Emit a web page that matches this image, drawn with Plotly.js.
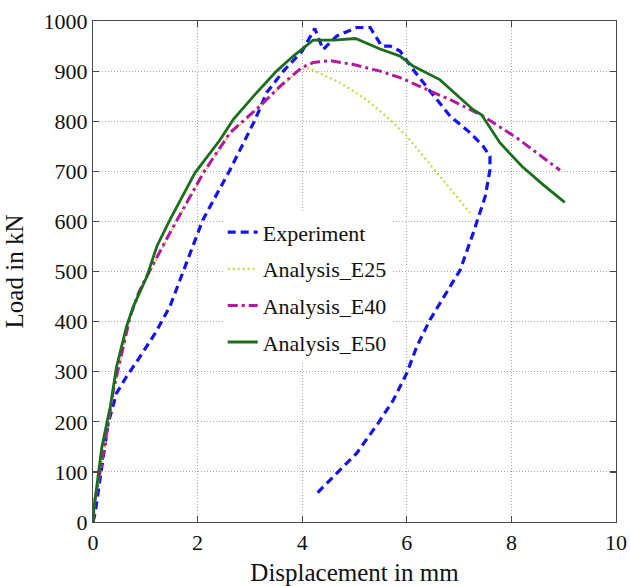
<!DOCTYPE html>
<html>
<head>
<meta charset="utf-8">
<script src="https://cdn.plot.ly/plotly-3.0.1.min.js"></script>
<style>html,body{margin:0;padding:0;background:#fff;}#chart{width:630px;height:586px;}</style>
</head>
<body>
<div id="chart"></div>
<script>
// Experiment (blue dashed)
const expX = [0, 0.04, 0.13, 0.29, 0.45, 0.64, 0.9, 1.19, 1.47, 1.66, 2.1, 2.62, 3.1, 3.32, 3.64, 4.0, 4.24, 4.4, 4.66, 5.04, 5.3, 5.52, 5.68, 5.87, 6.12, 6.5, 6.83, 7.21, 7.46, 7.59, 7.59, 7.5, 7.27, 7.02, 6.68, 6.44, 6.19, 6.0, 5.74, 5.45, 5.04, 4.59, 4.24];
const expY = [0, 17, 83, 197, 257, 290, 330, 377, 430, 483, 603, 703, 803, 857, 900, 940, 985, 943, 970, 987, 987, 950, 950, 940, 903, 853, 810, 777, 750, 730, 703, 650, 577, 503, 443, 403, 350, 297, 243, 197, 137, 90, 53];
// Analysis_E25 (yellow dotted)
const e25X = [0, 0.03, 0.2, 0.39, 0.58, 0.71, 0.87, 0.99, 1.47, 2.11, 2.62, 3.19, 3.58, 3.96, 4.1, 4.72, 5.23, 5.68, 6.0, 6.32, 6.57, 6.89, 7.21];
const e25Y = [0, 40, 135, 260, 347, 407, 453, 480, 575, 695, 775, 828, 868, 903, 907, 877, 843, 803, 770, 730, 697, 657, 617];
// Analysis_E40 (magenta dash-dot)
const e40X = [0, 0.03, 0.2, 0.39, 0.58, 0.71, 0.87, 0.99, 1.47, 2.11, 2.62, 3.19, 3.58, 3.99, 4.21, 4.53, 4.98, 5.49, 5.87, 6.38, 6.89, 7.46, 8.1, 8.93];
const e40Y = [0, 40, 137, 263, 350, 410, 457, 483, 577, 697, 777, 830, 870, 907, 917, 921, 913, 900, 887, 863, 840, 810, 767, 702];
// Analysis_E50 (green solid)
const e50X = [0, 0.02, 0.17, 0.33, 0.45, 0.64, 0.77, 1.03, 1.22, 1.47, 1.95, 2.43, 2.68, 3.07, 3.51, 3.83, 4.21, 4.6, 5.02, 5.49, 5.87, 6.12, 6.63, 7.27, 7.43, 7.78, 8.2, 8.61, 9.02];
const e50Y = [0, 30, 150, 230, 310, 390, 430, 490, 550, 603, 697, 763, 803, 850, 900, 930, 962, 962, 965, 944, 930, 910, 883, 823, 813, 757, 710, 673, 638];

const xTicks = [0, 2, 4, 6, 8, 10];
const yTicks = [0, 100, 200, 300, 400, 500, 600, 700, 800, 900, 1000];

const serif = 'Liberation Serif, Times New Roman, serif';

const traces = [
  {x: expX, y: expY, name: 'Experiment', mode: 'lines', legendgroup: 'a',
   line: {color: '#1414f0', width: 3.2, dash: '8px,5px'}},
  {x: e25X, y: e25Y, name: 'Analysis_E25', mode: 'lines', legendgroup: 'b',
   line: {color: '#c9d64a', width: 2.2, dash: '2px,3px'}},
  {x: e40X, y: e40Y, name: 'Analysis_E40', mode: 'lines', legendgroup: 'c',
   line: {color: '#b3189e', width: 3, dash: '10px,4px,3px,4px'}},
  {x: e50X, y: e50Y, name: 'Analysis_E50', mode: 'lines', legendgroup: 'd',
   line: {color: '#1b6e1b', width: 2.8}}
];

const axisCommon = {
  showline: true, linecolor: '#4a4a4a', linewidth: 1.2, mirror: 'allticks',
  ticks: 'inside', ticklen: 6, tickcolor: '#4a4a4a', tickwidth: 1.2,
  showgrid: true, gridcolor: '#a8a8a8', gridwidth: 1, griddash: '1px,2px',
  zeroline: false, tickfont: {family: serif, size: 22, color: '#111'},
  fixedrange: true
};

const layout = {
  width: 630, height: 586,
  margin: {l: 93, r: 14, t: 21, b: 64},
  paper_bgcolor: '#fff', plot_bgcolor: '#fff',
  showlegend: true,
  legend: {x: 0.248, y: 0.62, xanchor: 'left', yanchor: 'top',
           bgcolor: '#fff', borderwidth: 0, tracegroupgap: 5,
           font: {family: serif, size: 22, color: '#111'}},
  xaxis: Object.assign({}, axisCommon, {
    range: [0, 10], tickvals: xTicks, ticktext: xTicks.map(String),
    title: {text: 'Displacement in mm', font: {family: serif, size: 25, color: '#111'}, standoff: 10}
  }),
  yaxis: Object.assign({}, axisCommon, {
    range: [0, 1000], tickvals: yTicks, ticktext: yTicks.map(String),
    title: {text: 'Load in kN', font: {family: serif, size: 25, color: '#111'}, standoff: 12}
  })
};

Plotly.newPlot('chart', traces, layout, {staticPlot: true, displayModeBar: false});
</script>
</body>
</html>
